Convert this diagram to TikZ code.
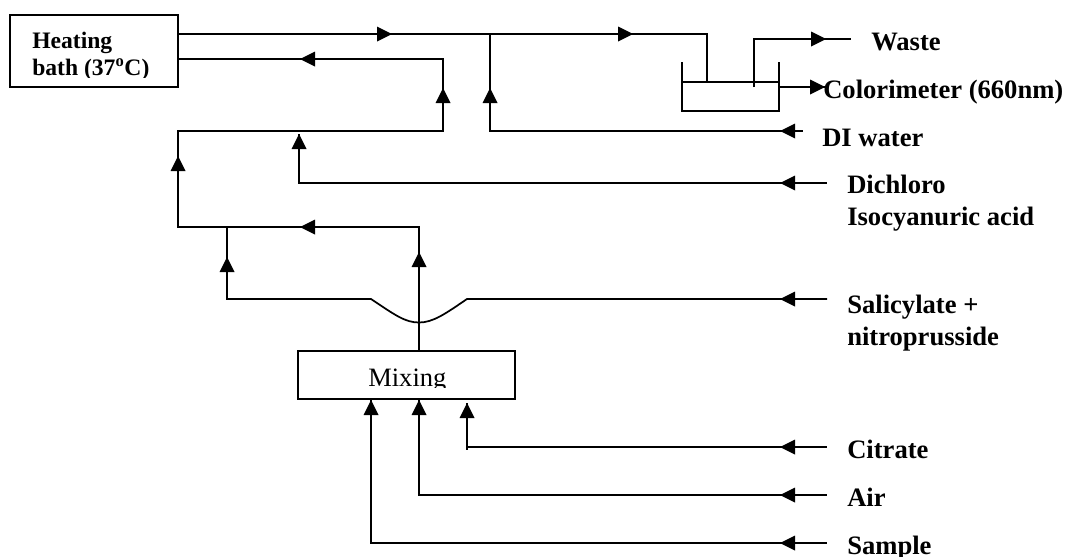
\documentclass[tikz,border=0pt]{standalone}
\usepackage{fontspec}
\setmainfont{Liberation Serif}
\newcommand\headU[2]{\fill (#1,#2) -- ++(-7.5,15) -- ++(15,0) -- cycle;}
\newcommand\headL[2]{\fill (#1,#2) -- ++(15,-7.5) -- ++(0,15) -- cycle;}
\newcommand\headR[2]{\fill (#1,#2) -- ++(-15,-7.5) -- ++(0,15) -- cycle;}
\tikzset{
  pipe/.style={draw=black,line width=1.3pt,line join=miter},
  boxnode/.style={draw=black,line width=1.3pt,fill=none,inner sep=0pt,rectangle},
  lab/.style={anchor=base west,inner sep=0pt,align=left,font=\fontsize{19.95}{23.6}\selectfont\bfseries},
  boxlab/.style={anchor=base west,inner sep=0pt,align=left,font=\fontsize{17.7}{20.25}\selectfont\bfseries},
  mixlab/.style={anchor=base west,inner sep=0pt,font=\fontsize{19.9}{24}\selectfont},
}
\begin{document}
\begin{tikzpicture}[x=0.75pt,y=-0.75pt]
\path[use as bounding box] (0,0) rectangle (1065,557);
% boxes
\node[boxnode,minimum width=126pt,minimum height=54pt] (bath) at (94,51) {};
\node[boxnode,minimum width=162.75pt,minimum height=36pt] (mix) at (406.5,375) {};
\begin{scope}
  \clip (12,17) rectangle (176,77);
  \node[boxlab] (bathtxt) at (32,75) {Heating\\bath (37\textsuperscript{o}C)};
\end{scope}
\begin{scope}
  \clip (300,353) rectangle (513,387);
  \node[mixlab] (mixtxt) at (368,386) {Mixing};
\end{scope}
% labels
\node[lab] (waste) at (871,50) {Waste};
\node[lab] (color) at (823,98) {Colorimeter (660nm)};
\node[lab] (di) at (822,146) {DI water};
\node[lab] (dich) at (847,225) {Dichloro\\Isocyanuric acid};
\node[lab] (sal) at (847,345) {Salicylate +\\nitroprusside};
\node[lab] (cit) at (847,458) {Citrate};
\node[lab] (air) at (847,506) {Air};
\node[lab] (samp) at (847,554) {Sample};
% free ends and junctions
\coordinate (bathOut) at (bath.east |- 0,34);
\coordinate (bathIn) at (bath.east |- 0,59);
\coordinate (inA) at (443,59);
\coordinate (inB) at (443,131);
\coordinate (merge) at (178,131);
\coordinate (low) at (178,227);
\coordinate (mixUp) at (419,227);
\coordinate (salJ) at (227,227);
\coordinate (salA) at (227,299);
\coordinate (salB) at (371,299);
\coordinate (salM) at (419,322.5);
\coordinate (salC) at (467,299);
\coordinate (salEnd) at (827,299);
\coordinate (diTop) at (490,34);
\coordinate (diC) at (490,131);
\coordinate (diEnd) at (803,131);
\coordinate (dTip) at (299,134);
\coordinate (dC) at (299,183);
\coordinate (dEnd) at (827,183);
\coordinate (bIn) at (707,34);
\coordinate (bInEnd) at (707,82);
\coordinate (wB) at (754,87);
\coordinate (wC) at (754,39);
\coordinate (wEnd) at (851,39);
\coordinate (cA) at (779,87);
\coordinate (cB) at (825,87);
\coordinate (mS) at (371,400);
\coordinate (sC) at (371,543);
\coordinate (sEnd) at (827,543);
\coordinate (mA) at (419,400);
\coordinate (aC) at (419,495);
\coordinate (aEnd) at (827,495);
\coordinate (mC) at (467,403);
\coordinate (cC) at (467,447);
\coordinate (cS) at (467,450);
\coordinate (cEnd) at (827,447);
% connectors
\draw[pipe] (bathOut) -- (bIn) -- (bInEnd);
\draw[pipe] (bathIn) -- (inA) -- (inB) -- (merge) -- (low) -- (mixUp) -- (mix.north -| mixUp);
\draw[pipe] (salJ) -- (salA) -- (salB) .. controls (395,315) and (405,322.5) .. (salM) .. controls (433,322.5) and (445,314) .. (salC) -- (salEnd);
\draw[pipe] (diTop) -- (diC) -- (diEnd);
\draw[pipe] (dTip) -- (dC) -- (dEnd);
\draw[pipe] (wB) -- (wC) -- (wEnd);
\draw[pipe] (cA) -- (cB);
\draw[pipe] (mS) -- (sC) -- (sEnd);
\draw[pipe] (mA) -- (aC) -- (aEnd);
\draw[pipe] (mC) -- (cS);
\draw[pipe] (cC) -- (cEnd);
% beaker
\draw[pipe] (682,62) -- (682,111) -- (779,111) -- (779,62);
\draw[pipe] (682,82) -- (779,82);
% arrowheads
\headR{392}{34} \headR{633}{34}
\headL{300}{59} \headL{300}{227}
\headU{443}{88} \headU{490}{88} \headU{299}{134} \headU{178}{156}
\headU{419}{252} \headU{227}{257}
\headR{826}{39} \headR{825}{87}
\headL{780}{131} \headL{780}{183} \headL{780}{299} \headL{780}{447} \headL{780}{495} \headL{780}{543}
\headU{371}{400} \headU{419}{400} \headU{467}{403}
\end{tikzpicture}
\end{document}
